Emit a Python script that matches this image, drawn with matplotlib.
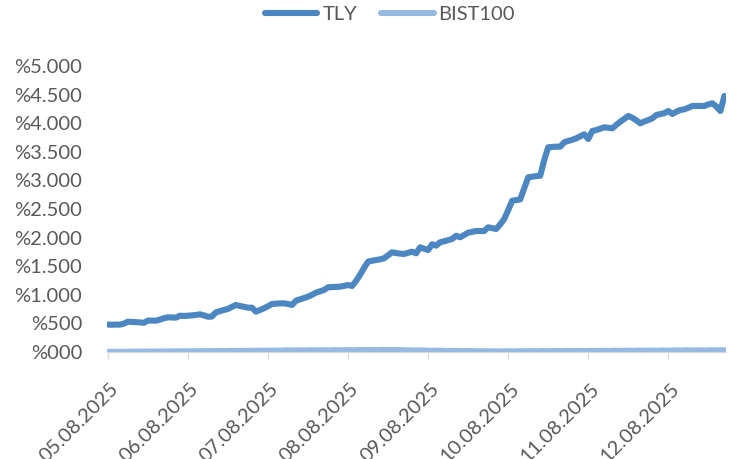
import numpy as np
import matplotlib
matplotlib.use('Agg')
import matplotlib.pyplot as plt
import matplotlib.transforms as mtransforms
from matplotlib.ticker import FixedLocator, FuncFormatter

# TLY vs BIST100 cumulative return (%), one value per trading day
tly = [480, 476, 480, 478, 495, 530, 525, 522, 518, 510,
       548, 550, 548, 565, 590, 606, 604, 600, 635, 630,
       635, 640, 647, 659, 640, 617, 620, 694, 715, 735,
       752, 790, 822, 805, 790, 775, 775, 705, 735, 764,
       800, 839, 845, 850, 851, 840, 822, 897, 920, 945,
       967, 1000, 1037, 1060, 1084, 1131, 1135, 1140, 1142, 1155,
       1171, 1154, 1241, 1350, 1470, 1579, 1595, 1608, 1620, 1638,
       1690, 1743, 1730, 1720, 1713, 1735, 1754, 1725, 1830, 1805,
       1783, 1883, 1859, 1918, 1935, 1955, 1976, 2033, 2005, 2045,
       2086, 2100, 2115, 2115, 2115, 2180, 2165, 2150, 2230, 2325,
       2480, 2645, 2655, 2669, 2860, 3054, 3065, 3075, 3082, 3357,
       3579, 3585, 3590, 3590, 3666, 3690, 3710, 3736, 3770, 3806,
       3724, 3864, 3880, 3905, 3928, 3920, 3910, 3970, 4026, 4075,
       4126, 4096, 4050, 3998, 4030, 4055, 4085, 4143, 4160, 4175,
       4213, 4161, 4200, 4231, 4243, 4270, 4301, 4301, 4301, 4301,
       4330, 4348, 4290, 4213, 4476]

bist100 = [0, 3, 2, 4, 1, 5, 6, 4, 7, 5, 8, 6, 9, 7, 10, 8, 11, 9, 12, 10,
           13, 11, 14, 12, 15, 13, 16, 14, 17, 15, 18, 20, 17, 19, 21, 18, 22, 20, 23, 21,
           24, 22, 25, 23, 26, 28, 25, 27, 29, 26, 28, 30, 27, 29, 31, 28, 30, 32, 29, 31,
           33, 30, 32, 34, 31, 33, 35, 32, 34, 36, 33, 35, 34, 32, 30, 28, 26, 25, 27, 24,
           22, 20, 23, 21, 19, 17, 20, 18, 16, 14, 17, 15, 13, 11, 14, 12, 10, 12, 9, 11,
           13, 10, 12, 14, 11, 13, 15, 12, 14, 16, 13, 15, 17, 14, 16, 18, 15, 17, 19, 16,
           18, 20, 17, 19, 21, 18, 20, 22, 19, 21, 23, 20, 22, 24, 21, 23, 25, 22, 24, 26,
           23, 25, 27, 24, 26, 28, 25, 27, 29, 26, 28, 30, 27, 29, 31]

tick_labels = ['05.08.2025', '06.08.2025', '07.08.2025', '08.08.2025',
               '09.08.2025', '10.08.2025', '11.08.2025', '12.08.2025']
tick_step = 20

TLY_COLOR = '#4C87C1'
BIST_COLOR = '#97BAE2'
TEXT_COLOR = '#595959'

plt.rcParams['font.family'] = ['Lato', 'DejaVu Sans']

x = np.arange(len(tly))

fig = plt.figure(figsize=(7.39, 4.59), dpi=100)
ax = fig.add_axes([107/739, 1 - 352/459, (726 - 107)/739, (352 - 66)/459])

ax.plot(x, tly, color=TLY_COLOR, lw=4.4, solid_capstyle='round',
        solid_joinstyle='round', label='TLY', zorder=3)
ax.plot(np.arange(len(bist100)), bist100, color=BIST_COLOR, lw=4.4,
        solid_capstyle='round', solid_joinstyle='round', label='BIST100', zorder=2)

ax.set_xlim(-0.2, len(tly) - 0.6)
ax.set_ylim(0, 5000)

ax.yaxis.set_major_locator(FixedLocator(np.arange(0, 5001, 500)))
def pct(v, pos):
  s = '{:,.0f}'.format(v).replace(',', '.')
  if v == 0: s = '000'
  return '%' + s
ax.yaxis.set_major_formatter(FuncFormatter(pct))
ax.tick_params(axis='y', length=0, pad=18, labelsize=14.5, labelcolor=TEXT_COLOR)

ticks = np.arange(0, len(tick_labels) * tick_step, tick_step)
ax.set_xticks(ticks)
ax.set_xticklabels(tick_labels, rotation=45, ha='right', va='top',
                   rotation_mode='anchor')
ax.tick_params(axis='x', length=5, width=1, color='#D9D9D9', pad=15,
               labelsize=14.5, labelcolor=TEXT_COLOR)
# nudge rotated labels a little to the right, like the original
shift = mtransforms.ScaledTranslation(2/100, 0, fig.dpi_scale_trans)
for lbl in ax.get_xticklabels():
  lbl.set_transform(lbl.get_transform() + shift)

for side in ['left', 'right', 'top']:
  ax.spines[side].set_visible(False)
ax.spines['bottom'].set_color('#D9D9D9')

leg = fig.legend(loc='center', bbox_to_anchor=(390/739, 1 - 14/459), ncol=2,
                 frameon=False, fontsize=14.5, handlelength=2.6,
                 handletextpad=0.25, columnspacing=1.2)
for t in leg.get_texts():
  t.set_color(TEXT_COLOR)

fig.savefig('out.png', dpi=100)
